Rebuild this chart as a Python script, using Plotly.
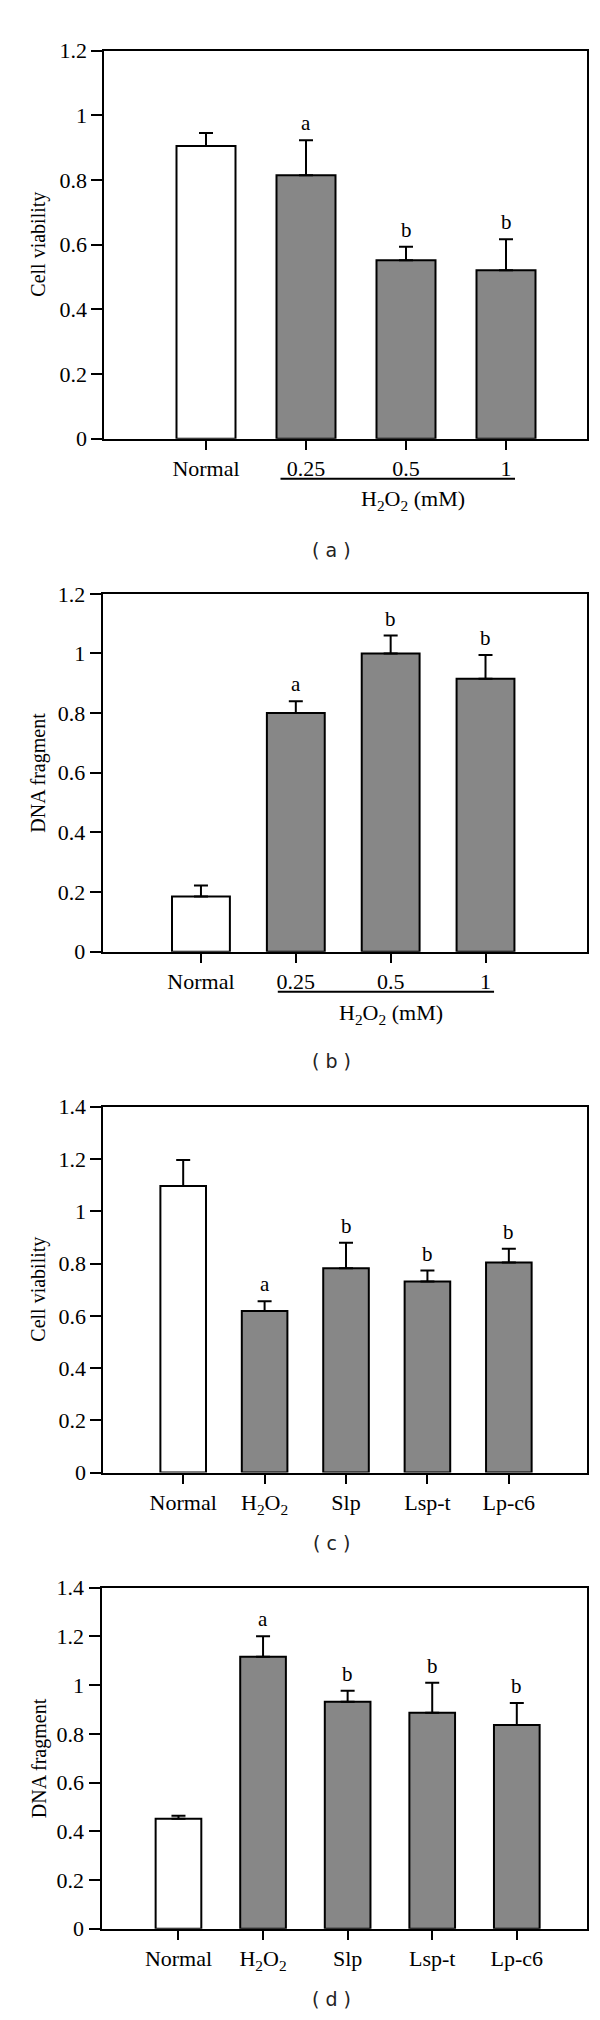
import plotly.graph_objects as go

# ---------------- data ----------------
a_categories = ["Normal", "0.25", "0.5", "1"]
a_values = [0.905, 0.815, 0.552, 0.521]
a_errors = [0.040, 0.108, 0.042, 0.096]
a_letters = ["", "a", "b", "b"]

b_categories = ["Normal", "0.25", "0.5", "1"]
b_values = [0.185, 0.800, 1.000, 0.915]
b_errors = [0.037, 0.040, 0.060, 0.080]
b_letters = ["", "a", "b", "b"]

c_categories = ["Normal", "H<sub>2</sub>O<sub>2</sub>", "Slp", "Lsp-t", "Lp-c6"]
c_values = [1.097, 0.618, 0.782, 0.731, 0.804]
c_errors = [0.099, 0.038, 0.098, 0.042, 0.053]
c_letters = ["", "a", "b", "b", "b"]

d_categories = ["Normal", "H<sub>2</sub>O<sub>2</sub>", "Slp", "Lsp-t", "Lp-c6"]
d_values = [0.452, 1.116, 0.932, 0.887, 0.836]
d_errors = [0.012, 0.085, 0.045, 0.123, 0.091]
d_letters = ["", "a", "b", "b", "b"]

ab_ytickvals = [0, 0.2, 0.4, 0.6, 0.8, 1.0, 1.2]
ab_yticktext = ["0", "0.2", "0.4", "0.6", "0.8", "1", "1.2"]
cd_ytickvals = [0, 0.2, 0.4, 0.6, 0.8, 1.0, 1.2, 1.4]
cd_yticktext = ["0", "0.2", "0.4", "0.6", "0.8", "1", "1.2", "1.4"]

y_titles = ["Cell viability", "DNA fragment", "Cell viability", "DNA fragment"]
panel_labels = ["( a )", "( b )", "( c )", "( d )"]
group_label = "H<sub>2</sub>O<sub>2</sub> (mM)"

# ---------------- layout constants ----------------
W, H = 600, 2020
SERIF = "Liberation Serif"
SANS = "DejaVu Sans"
GRAY = "#878787"

panels = [
    dict(cats=a_categories, vals=a_values, errs=a_errors, lets=a_letters,
         px_left=96.3, px_right=579, px_top=31, px_bot=424,
         xrange=[-1.017, 3.81], yrange=[0, 1.2], width=0.59,
         tv=ab_ytickvals, tt=ab_yticktext, bracket=(0.745, 3.09, 464.5),
         glabel=(2.07, 486), plabel_y=537),
    dict(cats=b_categories, vals=b_values, errs=b_errors, lets=b_letters,
         px_left=94.7, px_right=579, px_top=581, px_bot=943.3,
         xrange=[-1.036, 4.07], yrange=[0, 1.2], width=0.61,
         tv=ab_ytickvals, tt=ab_yticktext, bracket=(0.81, 3.09, 984),
         glabel=(2.0, 1006), plabel_y=1054),
    dict(cats=c_categories, vals=c_values, errs=c_errors, lets=c_letters,
         px_left=95.4, px_right=579, px_top=1100.4, px_bot=1470.8,
         xrange=[-0.98, 4.96], yrange=[0, 1.4], width=0.56,
         tv=cd_ytickvals, tt=cd_yticktext, bracket=None,
         glabel=None, plabel_y=1542),
    dict(cats=d_categories, vals=d_values, errs=d_errors, lets=d_letters,
         px_left=93.5, px_right=579, px_top=1587.3, px_bot=1932.7,
         xrange=[-0.91, 4.83], yrange=[0, 1.4], width=0.54,
         tv=cd_ytickvals, tt=cd_yticktext, bracket=None,
         glabel=None, plabel_y=2004),
]

fig = go.Figure()
annotations = []
shapes = []
layout_axes = {}

for i, p in enumerate(panels):
    n = i + 1
    xa = "x" if n == 1 else f"x{n}"
    ya = "y" if n == 1 else f"y{n}"
    xkey = "xaxis" if n == 1 else f"xaxis{n}"
    ykey = "yaxis" if n == 1 else f"yaxis{n}"

    colors = ["white"] + [GRAY] * (len(p["cats"]) - 1)
    fig.add_trace(go.Bar(
        x=p["cats"], y=p["vals"], xaxis=xa, yaxis=ya,
        width=p["width"],
        marker=dict(color=colors, line=dict(color="black", width=2)),
        error_y=dict(type="data", array=p["errs"], arrayminus=[0] * len(p["errs"]),
                     symmetric=False, color="black", thickness=2, width=7),
        showlegend=False, hoverinfo="skip",
    ))

    xdom = [p["px_left"] / W, p["px_right"] / W]
    ydom = [1 - p["px_bot"] / H, 1 - p["px_top"] / H]

    layout_axes[xkey] = dict(
        domain=xdom, anchor=ya, type="category", categoryorder="array",
        categoryarray=p["cats"], range=p["xrange"],
        showline=True, linecolor="black", linewidth=2, mirror=True,
        ticks="outside", ticklen=9, tickwidth=2, tickcolor="black",
        showgrid=False, zeroline=False, fixedrange=True,
        tickfont=dict(family=SERIF, size=22, color="black"),
    )
    layout_axes[ykey] = dict(
        domain=ydom, anchor=xa, range=p["yrange"],
        tickvals=p["tv"], ticktext=p["tt"],
        showline=True, linecolor="black", linewidth=2, mirror=True,
        ticks="outside", ticklen=11, tickwidth=2, tickcolor="black",
        showgrid=False, zeroline=False, fixedrange=True,
        tickfont=dict(family=SERIF, size=22, color="black"),
    )

    # significance letters (category index positions)
    for k, (v, e, l) in enumerate(zip(p["vals"], p["errs"], p["lets"])):
        if l:
            annotations.append(dict(
                x=k, y=v + e, xref=xa, yref=ya, text=l, showarrow=False,
                yanchor="middle", yshift=17,
                font=dict(family=SERIF, size=21, color="black"),
            ))

    # y-axis title
    annotations.append(dict(
        x=31 / W, y=(ydom[0] + ydom[1]) / 2, xref="paper", yref="paper",
        text=y_titles[i], textangle=-90, showarrow=False,
        xanchor="center", yanchor="middle",
        font=dict(family=SERIF, size=20, color="black"),
    ))

    # bracket + group label
    if p["bracket"] is not None:
        x0, x1, ypx = p["bracket"]
        shapes.append(dict(
            type="line", xref=xa, yref="paper", x0=x0, x1=x1,
            y0=1 - ypx / H, y1=1 - ypx / H,
            line=dict(color="black", width=2),
        ))
        gx, gy = p["glabel"]
        annotations.append(dict(
            x=gx, y=1 - gy / H, xref=xa, yref="paper", text=group_label,
            showarrow=False, xanchor="center", yanchor="middle",
            font=dict(family=SERIF, size=22, color="black"),
        ))

    # panel label
    annotations.append(dict(
        x=323 / W, y=1 - p["plabel_y"] / H, xref="paper", yref="paper",
        text=panel_labels[i], showarrow=False, xanchor="center", yanchor="middle",
        font=dict(family=SANS, size=19, color="#222222"),
    ))

fig.update_layout(
    width=W, height=H,
    margin=dict(l=0, r=0, t=0, b=0),
    paper_bgcolor="white", plot_bgcolor="white",
    annotations=annotations, shapes=shapes,
    **layout_axes,
)

fig.write_html("out.html")
